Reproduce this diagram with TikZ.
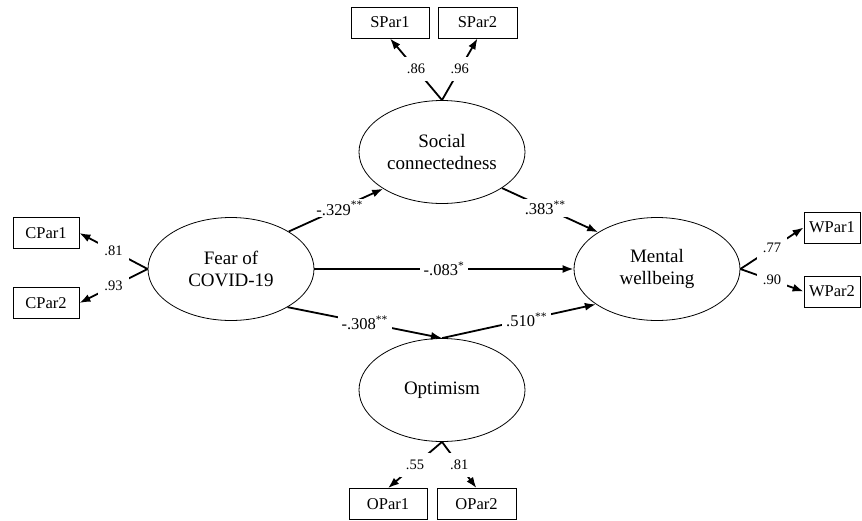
\documentclass[tikz,border=0pt]{standalone}
\usepackage{fontspec}
\setmainfont{Liberation Serif}
\usetikzlibrary{shapes.geometric,arrows.meta}
\begin{document}
\begin{tikzpicture}[x=1pt,y=-1pt,
  latent/.style={ellipse,draw,line width=0.8pt,minimum width=166pt,minimum height=103pt,inner sep=0pt,align=center,font=\fontsize{19}{22}\selectfont},
  obs/.style={rectangle,draw,line width=0.8pt,minimum height=31pt,inner sep=0pt,font=\fontsize{16.5}{18}\selectfont},
  sem/.style={line width=1.8pt,-{Latex[length=11pt,width=8pt]}},
  coef/.style={fill=white,inner xsep=4pt,inner ysep=2pt,font=\fontsize{16.5}{18}\selectfont},
  loadlab/.style={fill=white,inner xsep=6pt,inner ysep=7pt,font=\fontsize{14.5}{16}\selectfont}]
\useasboundingbox (0,0) rectangle (862,520);

% latent variables
\node[latent] (soc) at (442,152) {Social\\connectedness};
\node[latent] (fear) at (231,269) {Fear of\\COVID-19};
\node[latent] (ment) at (657,269) {Mental\\wellbeing};
\node[latent] (opt) at (442,390) {Optimism};

% indicators
\node[obs,minimum width=78pt] (sp1) at (390,22.5) {SPar1};
\node[obs,minimum width=79pt] (sp2) at (477.5,22.5) {SPar2};
\node[obs,minimum width=66pt] (cp1) at (46,233) {CPar1};
\node[obs,minimum width=66pt] (cp2) at (46,303) {CPar2};
\node[obs,minimum width=56pt] (wp1) at (832,227.5) {WPar1};
\node[obs,minimum width=56pt] (wp2) at (832,291.5) {WPar2};
\node[obs,minimum width=78pt] (op1) at (388,504) {OPar1};
\node[obs,minimum width=79pt] (op2) at (476.5,504) {OPar2};

% loadings
\draw[sem] (soc.north) -- node[loadlab] {.86} (sp1.south);
\draw[sem] (soc.north) -- node[loadlab] {.96} (sp2.south);
\draw[sem] (fear.west) -- node[loadlab] {.81} (cp1.east);
\draw[sem] (fear.west) -- node[loadlab] {.93} (cp2.east);
\draw[sem] (ment.east) -- node[loadlab] {.77} (wp1.west);
\draw[sem] (ment.east) -- node[loadlab] {.90} (wp2.west);
\draw[sem] (opt.south) -- node[loadlab] {.55} (op1.north);
\draw[sem] (opt.south) -- node[loadlab] {.81} (op2.north);

% structural paths
\draw[sem] (fear.33) -- node[coef,pos=0.54] {-.329\textsuperscript{**}} (soc.212);
\draw[sem] (soc.-31) -- node[coef,pos=0.45] {.383\textsuperscript{**}} (ment.148);
\draw[sem] (fear.east) -- node[coef] {-.083\textsuperscript{*}} (ment.west);
\draw[sem] (fear.-34) -- node[coef] {-.308\textsuperscript{**}} (opt.north);
\draw[sem] (opt.north) -- node[coef,pos=0.55] {.510\textsuperscript{**}} (ment.210);
\end{tikzpicture}
\end{document}
